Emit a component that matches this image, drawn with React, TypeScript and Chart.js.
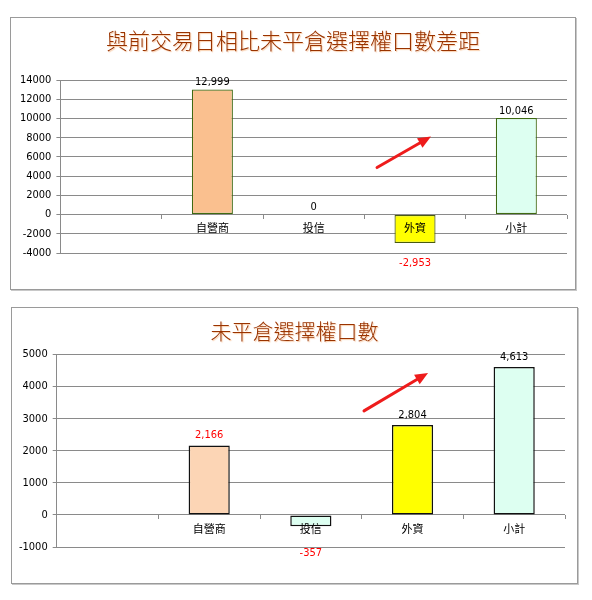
import React, { useEffect, useRef } from 'react';
import { Chart, registerables } from 'chart.js';

Chart.register(...registerables);

// ---- data ----
const categories = ['', '自營商', '投信', '外資', '小計'];
const diffTitle = '與前交易日相比未平倉選擇權口數差距';
const diffValues: (number | null)[] = [null, 12999, 0, -2953, 10046];
const diffTickRange = [-4000, 14000, 2000];
const diffArrow = [[2.625, 4890], [3.158, 8116]];

const oiTitle = '未平倉選擇權口數';
const oiValues: (number | null)[] = [null, 2166, -357, 2804, 4613];
const oiTickRange = [-1000, 5000, 1000];
const oiArrow = [[2.523, 3242], [3.153, 4426]];

// ---- styles ----
const PEACH1 = '#FAC08F';
const PEACH2 = '#FCD5B5';
const MINT = '#DDFFF1';
const YELLOW = '#FFFF00';
const GRID = '#8a8a8a';
const NUM_FONT = '"DejaVu Sans Condensed", "DejaVu Sans", sans-serif';
const CJK_FONT = '"Noto Sans CJK TC", "Noto Sans CJK SC", sans-serif';

type ChartSpec = {
  title: string;
  titleSize: number;
  titleTop: number;
  values: (number | null)[];
  range: number[];
  arrow: number[][];
  fills: string[];
  borders: string[];
  borderWidth: number;
  labelColors: string[];
  above: number;
  below: number;
  frame: { left: number; top: number; width: number; height: number };
  area: { left: number; top: number; right: number; bottom: number };
};

const specs: ChartSpec[] = [
  {
    title: diffTitle,
    titleSize: 22,
    titleTop: 7,
    values: diffValues,
    range: diffTickRange,
    arrow: diffArrow,
    fills: ['rgba(0,0,0,0)', PEACH1, MINT, YELLOW, MINT],
    borders: ['rgba(0,0,0,0)', '#3f6a12', '#3f6a12', '#4a5a10', '#3f6a12'],
    borderWidth: 1.2,
    labelColors: ['#000', '#000', '#000', '#ff0000', '#000'],
    above: 7,
    below: 20,
    frame: { left: 10, top: 17, width: 566, height: 273 },
    area: { left: 49.4, top: 62, right: 8, bottom: 36 },
  },
  {
    title: oiTitle,
    titleSize: 21,
    titleTop: 9,
    values: oiValues,
    range: oiTickRange,
    arrow: oiArrow,
    fills: ['rgba(0,0,0,0)', PEACH2, MINT, YELLOW, MINT],
    borders: ['rgba(0,0,0,0)', '#111', '#111', '#111', '#111'],
    borderWidth: 1.5,
    labelColors: ['#000', '#ff0000', '#ff0000', '#000', '#000'],
    above: 10,
    below: 27,
    frame: { left: 11, top: 307, width: 567, height: 277 },
    area: { left: 44.7, top: 46.5, right: 12, bottom: 36 },
  },
];

function makeLabelPlugin(spec: ChartSpec) {
  return {
    id: 'valueLabels',
    afterDatasetsDraw(chart: any) {
      const { ctx } = chart;
      const meta = chart.getDatasetMeta(0);
      const data = chart.data.datasets[0].data as (number | null)[];
      ctx.save();
      ctx.font = `11px ${NUM_FONT}`;
      ctx.textAlign = 'center';
      ctx.textBaseline = 'middle';
      meta.data.forEach((bar: any, i: number) => {
        const v = data[i];
        if (v === null || v === undefined) return;
        ctx.fillStyle = spec.labelColors[i];
        const y = v >= 0 ? bar.y - spec.above : bar.y + spec.below;
        ctx.fillText(v.toLocaleString('en-US'), bar.x, y);
      });
      ctx.restore();
    },
  };
}

function makeArrowPlugin(spec: ChartSpec) {
  return {
    id: 'arrowNote',
    afterDraw(chart: any) {
      const { ctx } = chart;
      const xs = chart.scales.x;
      const ys = chart.scales.y;
      const x1 = xs.getPixelForValue(spec.arrow[0][0]);
      const y1 = ys.getPixelForValue(spec.arrow[0][1]);
      const x2 = xs.getPixelForValue(spec.arrow[1][0]);
      const y2 = ys.getPixelForValue(spec.arrow[1][1]);
      const ang = Math.atan2(y2 - y1, x2 - x1);
      const headLen = 13;
      const headW = 5.5;
      const bx = x2 - headLen * Math.cos(ang);
      const by = y2 - headLen * Math.sin(ang);
      ctx.save();
      ctx.strokeStyle = '#ee1c1c';
      ctx.fillStyle = '#ee1c1c';
      ctx.lineWidth = 3;
      ctx.lineCap = 'round';
      ctx.beginPath();
      ctx.moveTo(x1, y1);
      ctx.lineTo(bx, by);
      ctx.stroke();
      ctx.beginPath();
      ctx.moveTo(x2, y2);
      ctx.lineTo(bx + headW * Math.sin(ang), by - headW * Math.cos(ang));
      ctx.lineTo(bx - headW * Math.sin(ang), by + headW * Math.cos(ang));
      ctx.closePath();
      ctx.fill();
      ctx.restore();
    },
  };
}

function BarPanel({ spec }: { spec: ChartSpec }) {
  const ref = useRef<HTMLCanvasElement | null>(null);
  const innerW = spec.frame.width - 2;
  const innerH = spec.frame.height - 2;

  useEffect(() => {
    if (!ref.current) return;
    const [min, max, step] = spec.range;
    const chart = new Chart(ref.current, {
      type: 'bar',
      data: {
        labels: categories,
        datasets: [
          {
            data: spec.values as any,
            backgroundColor: spec.fills,
            borderColor: spec.borders,
            borderWidth: spec.borderWidth,
            borderSkipped: false,
            barPercentage: 0.405,
            categoryPercentage: 1,
          },
        ],
      },
      options: {
        responsive: false,
        animation: false,
        maintainAspectRatio: false,
        layout: {
          padding: { left: 0, top: spec.area.top, right: spec.area.right, bottom: spec.area.bottom },
        },
        plugins: {
          legend: { display: false },
          title: { display: false },
          tooltip: { enabled: false },
        },
        scales: {
          x: {
            position: { y: 0 } as any,
            offset: true,
            grid: {
              offset: true,
              drawOnChartArea: false,
              drawTicks: true,
              tickLength: 4,
              color: GRID,
              z: 1,
            } as any,
            border: { display: false },
            ticks: {
              z: 1,
              color: '#000',
              padding: 3,
              maxRotation: 0,
              autoSkip: false,
              font: { family: CJK_FONT, size: 11 },
            } as any,
          },
          y: {
            min,
            max,
            afterFit: (s: any) => {
              s.width = spec.area.left;
            },
            grid: {
              color: GRID,
              tickLength: 4,
              lineWidth: 1,
            },
            border: { display: true, color: GRID },
            ticks: {
              stepSize: step,
              color: '#000',
              padding: 5,
              font: { family: NUM_FONT, size: 11 },
              callback: (v: any) => String(v),
            },
          },
        },
      },
      plugins: [makeLabelPlugin(spec), makeArrowPlugin(spec)],
    });
    return () => chart.destroy();
  }, [spec]);

  return (
    <div
      style={{
        position: 'absolute',
        left: spec.frame.left,
        top: spec.frame.top,
        width: spec.frame.width,
        height: spec.frame.height,
        boxSizing: 'border-box',
        border: '1px solid #9a9a9a',
        boxShadow: '1px 1px 0 #c8c8c8',
        background: '#fff',
      }}
    >
      <canvas
        ref={ref}
        width={innerW}
        height={innerH}
        style={{ position: 'absolute', left: 0, top: 0, width: innerW, height: innerH }}
      />
      <div
        style={{
          position: 'absolute',
          left: 0,
          width: innerW,
          top: spec.titleTop,
          textAlign: 'center',
          fontFamily: CJK_FONT,
          fontWeight: 300,
          fontSize: spec.titleSize,
          lineHeight: `${spec.titleSize + 6}px`,
          color: '#993300',
          textShadow: '1px 1px 1px rgba(245,170,110,0.6)',
          whiteSpace: 'nowrap',
        }}
      >
        {spec.title}
      </div>
    </div>
  );
}

export default function App() {
  return (
    <div
      style={{
        position: 'absolute',
        left: 0,
        top: 0,
        width: 592,
        height: 600,
        background: '#fff',
        overflow: 'hidden',
      }}
    >
      {specs.map((s, i) => (
        <BarPanel key={i} spec={s} />
      ))}
    </div>
  );
}
